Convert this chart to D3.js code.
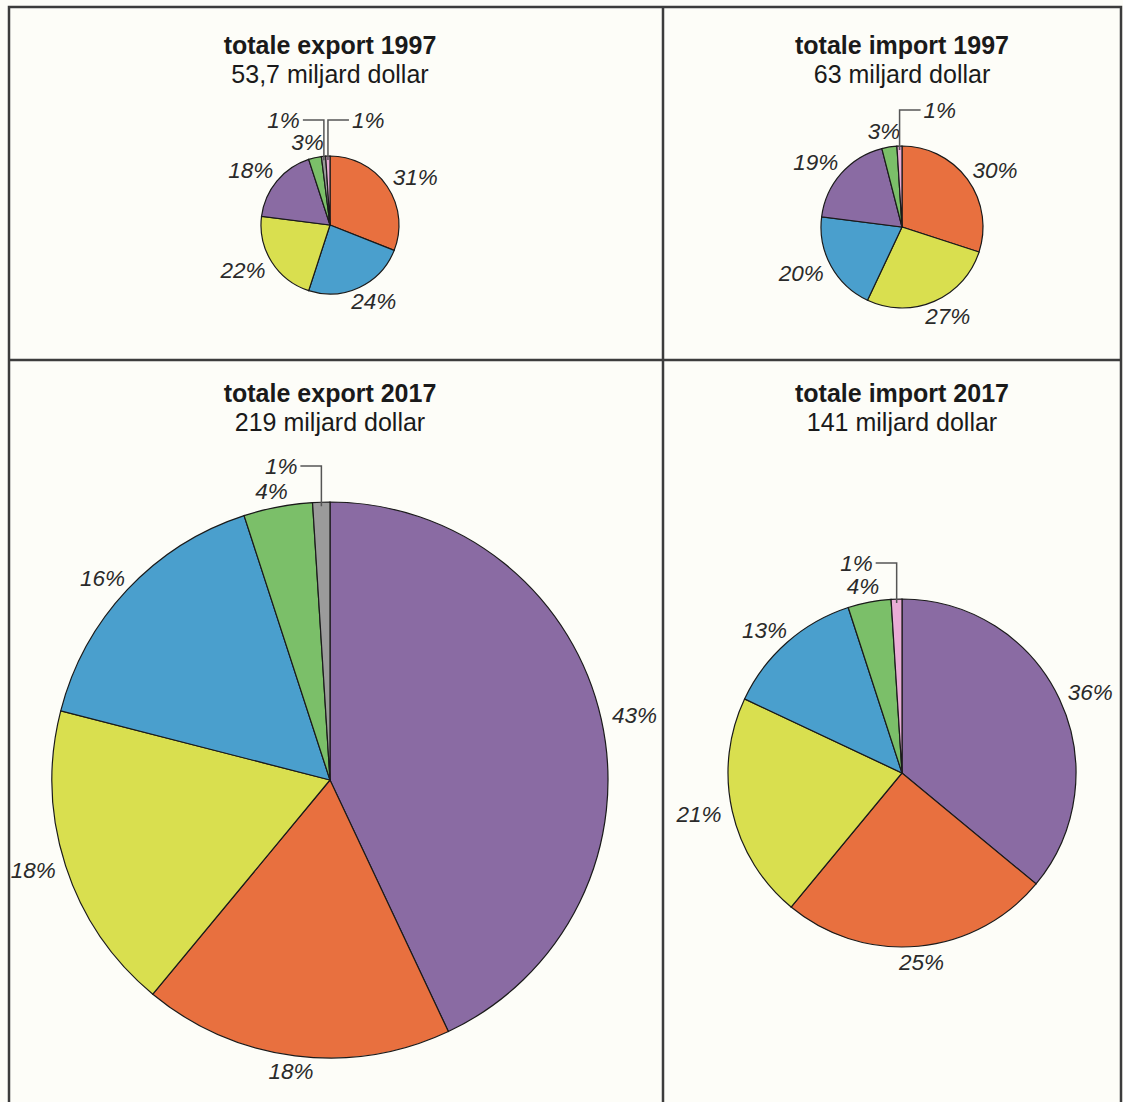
<!DOCTYPE html>
<html lang="nl">
<head>
<meta charset="UTF-8">
<title>Export en import 1997 - 2017</title>
<style>
  body { margin: 0; background: #fdfdf8; }
  svg { display: block; }
  .title { font: bold 25px "Liberation Sans", Arial, sans-serif; fill: #1a1a1a; }
  .subtitle { font: 25px "Liberation Sans", Arial, sans-serif; fill: #1a1a1a; }
  .label { font: italic 22.5px "Liberation Sans", Arial, sans-serif; fill: #2a2a2a; }
  .slice { stroke: #1a1a1a; stroke-width: 1.2px; }
  .leader { fill: none; stroke: #555; stroke-width: 1.5px; }
</style>
</head>
<body>
<svg width="1123" height="1102"></svg>
<script src="https://d3js.org/d3.v7.min.js"></script>
<script>
// values per panel, clockwise from 12 o'clock
var titles    = ["totale export 1997", "totale import 1997", "totale export 2017", "totale import 2017"];
var subtitles = ["53,7 miljard dollar", "63 miljard dollar", "219 miljard dollar", "141 miljard dollar"];

var export1997     = [31, 24, 22, 18, 3, 1, 1];
var export1997Keys = ["orange", "blue", "yellow", "purple", "green", "gray", "pink"];
var import1997     = [30, 27, 20, 19, 3, 1];
var import1997Keys = ["orange", "yellow", "blue", "purple", "green", "pink"];
var export2017     = [43, 18, 18, 16, 4, 1];
var export2017Keys = ["purple", "orange", "yellow", "blue", "green", "gray"];
var import2017     = [36, 25, 21, 13, 4, 1];
var import2017Keys = ["purple", "orange", "yellow", "blue", "green", "pink"];

var colors = {
  orange: "#e8703f", blue: "#4a9fcd", yellow: "#d9df4f", purple: "#8a6ba3",
  green: "#7bbf69", gray: "#9b9b9b", pink: "#e9acd6"
};

// layout: centre, radius, which way each 1% leader goes
var panels = [
  {values: export1997, keys: export1997Keys, cx: 330, cy: 225, r: 69,  tx: 330, ty: 54,  leaders: [-1, 1]},
  {values: import1997, keys: import1997Keys, cx: 902, cy: 227, r: 81,  tx: 902, ty: 54,  leaders: [1]},
  {values: export2017, keys: export2017Keys, cx: 330, cy: 780, r: 278, tx: 330, ty: 402, leaders: [-1]},
  {values: import2017, keys: import2017Keys, cx: 902, cy: 773, r: 174, tx: 902, ty: 402, leaders: [-1]}
];

var svg = d3.select("svg");

// frame
var frame = svg.append("g").attr("stroke", "#3c3c3c").attr("stroke-width", 2.5).attr("fill", "none");
frame.append("path").attr("d", "M9,1110 V7 H1121 V1110");
frame.append("line").attr("x1", 663).attr("x2", 663).attr("y1", 7).attr("y2", 1110);
frame.append("line").attr("x1", 9).attr("x2", 1121).attr("y1", 360).attr("y2", 360);

var pie = d3.pie().sort(null).value(function(d) { return d; });

panels.forEach(function(p, i) {
  var g = svg.append("g");

  g.append("text").attr("class", "title")
    .attr("x", p.tx).attr("y", p.ty)
    .attr("text-anchor", "middle").text(titles[i]);
  g.append("text").attr("class", "subtitle")
    .attr("x", p.tx).attr("y", p.ty + 29)
    .attr("text-anchor", "middle").text(subtitles[i]);

  var arc = d3.arc().innerRadius(0).outerRadius(p.r);
  var arcs = pie(p.values);

  var c = g.append("g").attr("transform", "translate(" + p.cx + "," + p.cy + ")");

  c.selectAll(".slice")
    .data(arcs)
    .enter().append("path")
      .attr("class", "slice")
      .attr("d", arc)
      .attr("fill", function(d, j) { return colors[p.keys[j]]; });

  var li = 0;
  arcs.forEach(function(d) {
    var a = (d.startAngle + d.endAngle) / 2;
    var s = Math.sin(a), k = Math.cos(a);
    if (d.value <= 1) {
      // tiny slice: leader line up and sideways
      var side = p.leaders[li++];
      var x0 = (p.r - 4) * s, y0 = -(p.r - 4) * k;
      var yl = -p.r - 36;
      var x1 = x0 + side * 21;
      c.append("path").attr("class", "leader")
        .attr("d", "M" + x0 + "," + y0 + " V" + yl + " H" + x1);
      c.append("text").attr("class", "label")
        .attr("x", x1 + side * 3).attr("y", yl + 8)
        .attr("text-anchor", side < 0 ? "end" : "start")
        .text(d.value + "%");
    } else {
      var rr = p.r + 12;
      c.append("text").attr("class", "label")
        .attr("x", rr * s + 22 * s)
        .attr("y", -rr * k - 4 * k)
        .attr("text-anchor", "middle")
        .attr("dominant-baseline", "central")
        .text(d.value + "%");
    }
  });
});
</script>
</body>
</html>
